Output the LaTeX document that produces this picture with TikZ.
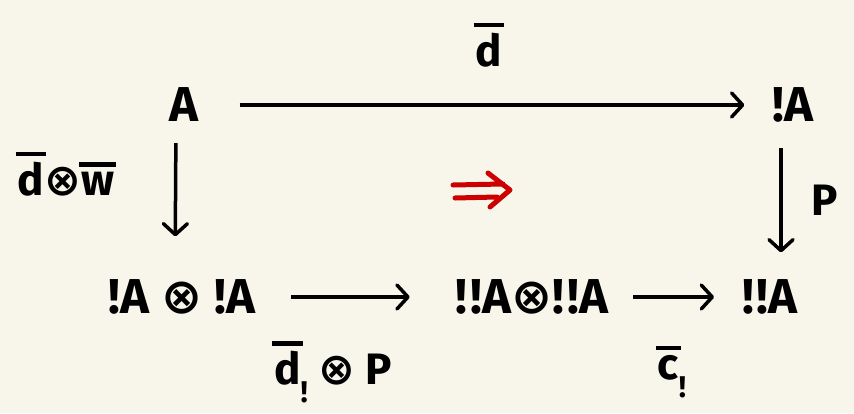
\documentclass[tikz,border=0pt]{standalone}
\usepackage{fontspec}
\setmainfont{Fira Sans}[Ligatures=NoCommon]
\newfontfamily\symfont{DejaVu Sans}
\usetikzlibrary{positioning,arrows.meta}
\definecolor{paper}{RGB}{248,246,234}
\definecolor{twocell}{RGB}{204,0,0}
\newcommand{\tns}{{\symfont\bfseries ⊗}}
\newcommand{\bang}{!\kern0.06em}
\newcommand{\ovbar}[1]{\leavevmode\setbox0\hbox{#1}%
  \rlap{\kern-0.05em\rule[\dimexpr\ht0+0.12em\relax]{\dimexpr\wd0+0.1em\relax}{0.1em}}\box0}
\newcommand{\lsub}[1]{\raisebox{-0.4em}{\fontsize{30}{30}\selectfont #1}}

\begin{document}
\begin{tikzpicture}[x=1pt,y=-1pt,
  obj/.style={inner sep=0pt,font=\fontsize{49}{50}\selectfont\bfseries},
  lbl/.style={inner sep=0pt,font=\fontsize{44}{48}\selectfont\bfseries},
  arr/.style={line width=3.5pt,-{Straight Barb[length=11pt,width=24pt,round]}}]
  \fill[paper] (0,0) rectangle (854,413);
  \useasboundingbox (0,0) rectangle (854,413);

  % objects
  \node[obj] (A) at (184,105) {A};
  \node[obj] (bA) at (793,105) {!A};
  \node[obj] (bAbA) at (182,297) {!A \tns{} !A};
  \node[obj] (bbAbbA) at (532,297) {\bang!A\tns\bang!A};
  \node[obj] (bbA) at (770,297) {\bang!A};

  % morphisms
  \draw[arr,shorten <=41pt,shorten >=28pt] (A) -- (bA);
  \draw[arr,shorten <=21pt,shorten >=43pt] ([xshift=-8pt]A.south) -- ([xshift=-7pt]bAbA.north);
  \draw[arr,shorten <=25pt,shorten >=27pt] ([xshift=-12pt]bA.south) -- ([xshift=11pt]bbA.north);
  \draw[arr,shorten <=36pt,shorten >=46pt] (bAbA) -- (bbAbbA);
  \draw[arr,shorten <=25pt,shorten >=28pt] (bbAbbA) -- (bbA);

  \node[lbl] (ld) at (489,45) {\ovbar{d}};
  \node[lbl] (ldw) at (66,174) {\ovbar{d}\tns\ovbar{w}};
  \node[lbl] (lp) at (825,200) {P};
  \node[lbl] (ldp) at (333,372) {\ovbar{d}\lsub{!} \tns{} P};
  \node[lbl] (lc) at (672,372) {\ovbar{c}\lsub{!}};

  % 2-cell
  \draw[twocell,line width=5pt,line cap=round,line join=round]
    (453,185) -- (503,184) (455,198) -- (497,197)
    (488,173) -- (510,190) -- (490,207);
\end{tikzpicture}
\end{document}
